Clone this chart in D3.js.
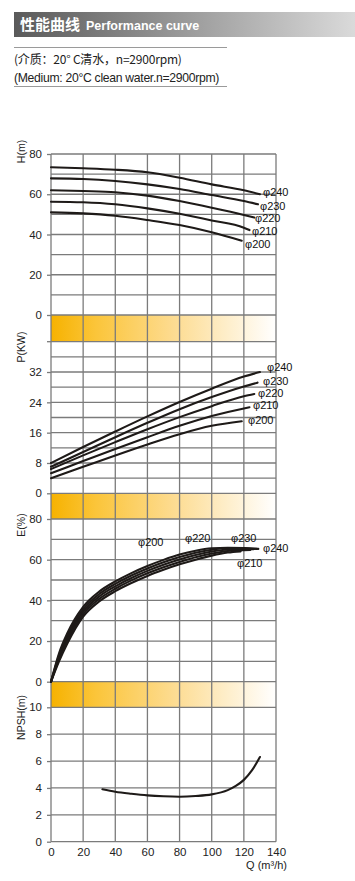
<!DOCTYPE html>
<html><head><meta charset="utf-8">
<script src="https://cdn.jsdelivr.net/npm/d3@7/dist/d3.min.js"></script>
<style>
html,body{margin:0;padding:0;background:#fff;}
svg{display:block;font-family:"Liberation Sans",Arial,sans-serif;}
</style></head>
<body>
<svg id="c" width="355" height="881"></svg>
<script>
// ---------- data ----------
const qTicks = [0, 20, 40, 60, 80, 100, 120, 140];
const diameters = ["φ200", "φ210", "φ220", "φ230", "φ240"];

const headTicks = [0, 20, 40, 60, 80];
const head200 = [[0,51],[20,50.5],[40,49.3],[60,47.2],[80,44.7],[100,41.1],[118.7,36.9]];
const head210 = [[0,56.3],[20,56],[40,55],[60,53],[80,50.3],[100,47],[120,43.4],[123.5,42.2]];
const head220 = [[0,62],[20,61.6],[40,61],[60,59.3],[80,56.6],[100,53.3],[120,49.7],[126.5,48.4]];
const head230 = [[0,67.9],[20,67.6],[40,66.6],[60,64.9],[80,62.6],[100,59.6],[120,56.6],[128.8,55]];
const head240 = [[0,73.4],[20,72.9],[40,72.2],[60,70.9],[80,68.2],[100,64.9],[120,62],[130,60]];

const powerTicks = [0, 8, 16, 24, 32];
const power200 = [[0,4.0],[20,7.0],[40,10.0],[60,12.9],[80,15.6],[100,17.8],[118.7,19.0]];
const power210 = [[0,5.3],[20,8.5],[40,11.7],[60,14.8],[80,17.8],[100,20.4],[120,22.4],[123.5,22.7]];
const power220 = [[0,6.4],[20,10.0],[40,13.5],[60,16.9],[80,20.1],[100,23.0],[120,25.6],[126.5,26.2]];
const power230 = [[0,7.0],[20,10.9],[40,14.8],[60,18.6],[80,22.2],[100,25.4],[120,28.2],[128.5,29.2]];
const power240 = [[0,8.0],[20,12.2],[40,16.3],[60,20.3],[80,24.1],[100,27.6],[120,30.8],[130,32.0]];

const effTicks = [0, 20, 40, 60, 80];
const eff200 = [[0,0],[5,10],[10,18.5],[20,32],[30,39.5],[40,44.5],[50,48.5],[60,52],[70,55],[80,57.7],[90,60],[100,62],[110,63.5],[118,64.1]];
const eff210 = [[0,0],[5,11],[10,19.8],[20,33.2],[30,40.7],[40,45.7],[50,49.8],[60,53.3],[70,56.3],[80,58.9],[90,61.2],[100,63],[110,64.3],[120,64.7],[124,64.8]];
const eff220 = [[0,0],[5,12],[10,21],[20,34.4],[30,41.9],[40,46.9],[50,51],[60,54.5],[70,57.5],[80,60.1],[90,62.3],[100,64],[110,65],[120,65.2],[126,65.1]];
const eff230 = [[0,0],[5,13],[10,22.3],[20,35.6],[30,43.1],[40,48.1],[50,52.2],[60,55.7],[70,58.7],[80,61.3],[90,63.4],[100,64.9],[110,65.6],[120,65.6],[128,65.3]];
const eff240 = [[0,0],[5,14],[10,23.6],[20,36.8],[30,44.3],[40,49.3],[50,53.4],[60,56.9],[70,59.9],[80,62.5],[90,64.4],[100,65.6],[110,65.9],[120,65.7],[129,65.3]];

const npshTicks = [0, 2, 4, 6, 8, 10];
const npsh = [[32,3.9],[40,3.72],[50,3.57],[60,3.45],[70,3.38],[80,3.35],[90,3.4],[100,3.52],[110,3.84],[115,4.15],[120,4.6],[125,5.3],[130,6.3]];

// ---------- layout ----------
const svg = d3.select("#c");
const X0 = 51, X1 = 276;
const x = d3.scaleLinear().domain([0, 140]).range([X0, X1]);
const gridColor = "#7b7b7b";
const ink = "#1e1a18";

// header
const defs = svg.append("defs");
const hg = defs.append("linearGradient").attr("id", "hg");
hg.append("stop").attr("offset", "0").attr("stop-color", "#5a5a5a");
hg.append("stop").attr("offset", "1").attr("stop-color", "#dadada");
const og = defs.append("linearGradient").attr("id", "og").attr("gradientUnits", "userSpaceOnUse")
  .attr("x1", X0).attr("x2", X1).attr("y1", 0).attr("y2", 0);
og.append("stop").attr("offset", "0").attr("stop-color", "#f6b200");
og.append("stop").attr("offset", "0.2").attr("stop-color", "#fbc53a");
og.append("stop").attr("offset", "0.55").attr("stop-color", "#fddc92");
og.append("stop").attr("offset", "1").attr("stop-color", "#ffffff");

svg.append("rect").attr("x", 14).attr("y", 12).attr("width", 341).attr("height", 25).attr("fill", "url(#hg)");
const ht = svg.append("text").attr("x", 20).attr("y", 30).attr("fill", "#fff").attr("font-weight", "bold");
ht.append("tspan").attr("font-size", 15).attr("font-family", "'Noto Sans CJK SC',sans-serif").text("性能曲线");
ht.append("tspan").attr("dx", 6).attr("font-size", 12.5).text("Performance curve");

svg.append("line").attr("x1", 14).attr("x2", 227).attr("y1", 47.5).attr("y2", 47.5).attr("stroke", "#9a9a9a").attr("stroke-width", 1);
svg.append("line").attr("x1", 14).attr("x2", 227).attr("y1", 86.5).attr("y2", 86.5).attr("stroke", "#9a9a9a").attr("stroke-width", 1);
svg.append("text").attr("x", 14).attr("y", 64).attr("font-size", 12).attr("fill", "#222")
  .attr("font-family", "'Noto Sans CJK SC','Liberation Sans',sans-serif").attr("letter-spacing", -0.2)
  .text("(介质：20° C清水，n=2900rpm)");
svg.append("text").attr("x", 14).attr("y", 81.5).attr("font-size", 12.2).attr("fill", "#222")
  .attr("letter-spacing", -0.3).text("(Medium: 20°C clean water.n=2900rpm)");

// panels
const panels = [
  { title: "H(m)", titleY: 151.5, dom: [0, 80], rng: [315, 154], step: 10, ticks: headTicks,
    series: [head200, head210, head220, head230, head240] },
  { title: "P(KW)", titleY: 347, dom: [0, 40], rng: [493.3, 341.7], step: 4, ticks: powerTicks,
    series: [power200, power210, power220, power230, power240] },
  { title: "E(%)", titleY: 525, dom: [0, 80], rng: [681.7, 519], step: 10, ticks: effTicks,
    series: [eff200, eff210, eff220, eff230, eff240] },
  { title: "NPSH(m)", titleY: 717.5, dom: [0, 10], rng: [841.7, 707.3], step: 2, ticks: npshTicks,
    series: [npsh] }
];
panels.forEach(p => { p.y = d3.scaleLinear().domain(p.dom).range(p.rng); });

// orange bands (between panels)
const bands = [[315, 341.7], [493.3, 519], [681.7, 707.3]];
bands.forEach(b => {
  svg.append("rect").attr("x", X0).attr("y", b[0]).attr("width", X1 - X0).attr("height", b[1] - b[0]).attr("fill", "url(#og)");
});

const grid = svg.append("g").attr("stroke", gridColor).attr("stroke-width", 1.3).attr("fill", "none");
qTicks.forEach(q => {
  grid.append("line").attr("x1", x(q)).attr("x2", x(q)).attr("y1", 154).attr("y2", 841.7);
});
panels.forEach(p => {
  const vals = d3.range(p.dom[0], p.dom[1] + 0.001, p.step);
  vals.forEach(v => {
    grid.append("line").attr("x1", X0).attr("x2", X1).attr("y1", p.y(v)).attr("y2", p.y(v));
  });
  const ax = svg.append("g").attr("transform", `translate(${X0},0)`)
    .call(d3.axisLeft(p.y).tickValues(p.ticks).tickSize(4).tickPadding(5).tickFormat(d3.format("d")));
  ax.select(".domain").remove();
  ax.selectAll("line").attr("stroke", gridColor).attr("stroke-width", 1.3);
  ax.selectAll("text").attr("font-size", 11.5).attr("fill", "#222").attr("font-family", "'Liberation Sans',Arial,sans-serif");
  svg.append("text").attr("transform", `translate(25,${p.titleY}) rotate(-90)`).attr("text-anchor", "middle")
    .attr("font-size", 10.5).attr("fill", "#222").text(p.title);
});
svg.append("line").attr("x1", X0 - 4).attr("x2", X0).attr("y1", 341.7).attr("y2", 341.7).attr("stroke", gridColor).attr("stroke-width", 1.3);

// x axis
const xa = svg.append("g").attr("transform", "translate(0,841.7)")
  .call(d3.axisBottom(x).tickValues(qTicks).tickSize(0).tickPadding(6));
xa.select(".domain").remove();
xa.selectAll("text").attr("font-size", 11.5).attr("fill", "#222").attr("font-family", "'Liberation Sans',Arial,sans-serif");
svg.append("text").attr("x", 287).attr("y", 869).attr("text-anchor", "end").attr("font-size", 11).attr("fill", "#222")
  .text("Q (m³/h)");

// curves
panels.forEach(p => {
  const line = d3.line().x(d => x(d[0])).y(d => p.y(d[1])).curve(d3.curveMonotoneX);
  p.series.forEach(s => {
    svg.append("path").attr("d", line(s)).attr("fill", "none").attr("stroke", ink)
      .attr("stroke-width", p.title === "E(%)" ? 2.1 : 2.1).attr("stroke-linecap", "round");
  });
});

// diameter labels
function labels(lbls, pos) {
  lbls.forEach((t, i) => {
    svg.append("text").attr("x", pos[i][0]).attr("y", pos[i][1]).attr("font-size", 11).attr("fill", "#111").text(t);
  });
}
labels(diameters, [[245, 248], [252, 235], [255, 222], [260, 210], [263, 196]]);
labels(diameters, [[248, 424], [253, 409], [258, 397], [263, 385], [267, 371]]);
labels(diameters, [[138, 546], [237, 567], [185, 542], [231, 541.5], [263, 551.5]]);
</script>
</body></html>
